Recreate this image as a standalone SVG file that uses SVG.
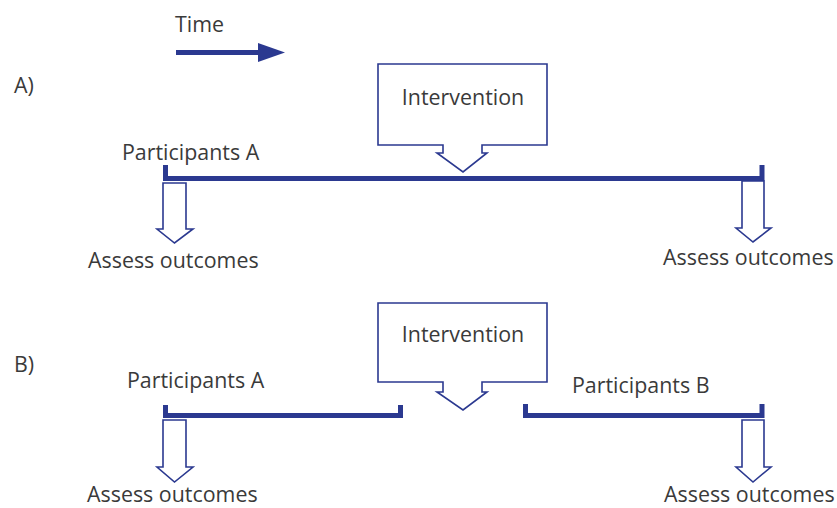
<svg xmlns="http://www.w3.org/2000/svg" width="837" height="508" viewBox="0 0 837 508">
<style>
text{font-family:"Open Sans","Noto Sans",sans-serif;font-size:21.4px;fill:#3a3a3a}
.bar{fill:none;stroke:#2b3990;stroke-width:5}
.hollow{fill:#fff;stroke:#2b3990;stroke-width:1.6}
</style>
<rect width="837" height="508" fill="#fff"/>
<g id="time">
<text x="175" y="32">Time</text>
<line x1="176" y1="52.5" x2="262" y2="52.5" stroke="#2b3990" stroke-width="5"/>
<polygon points="258,43 285,52.5 258,62" fill="#2b3990"/>
</g>
<text x="14" y="93">A)</text>
<text x="14" y="372">B)</text>
<g id="interventionA">
<polygon class="hollow" points="378,64 547,64 547,145 482,145 482,153 487,153 463,172 437,153 443,153 443,145 378,145"/>
<text x="463" y="105" text-anchor="middle">Intervention</text>
</g>
<g id="timelineA">
<polyline class="bar" points="165.5,165 165.5,178.5 762,178.5 762,165"/>
<text x="122" y="160">Participants A</text>
</g>
<g id="assessA1">
<polygon class="hollow" points="163,183 186,183 186,229 193,229 174.5,243 157,229 163,229"/>
<text x="88" y="268">Assess outcomes</text>
</g>
<g id="assessA2">
<polygon class="hollow" points="742,181 764,181 764,228 771,228 753,242 736,228 742,228"/>
<text x="663" y="265">Assess outcomes</text>
</g>
<g id="interventionB">
<polygon class="hollow" points="378,303 547,303 547,382 482,382 482,392 487,392 463,410 437,392 443,392 443,382 378,382"/>
<text x="463" y="342" text-anchor="middle">Intervention</text>
</g>
<g id="timelineB1">
<polyline class="bar" points="165.5,405 165.5,415.5 400.5,415.5 400.5,405"/>
<text x="127" y="388">Participants A</text>
</g>
<g id="timelineB2">
<polyline class="bar" points="525.5,404 525.5,415.5 762,415.5 762,404"/>
<text x="572" y="393">Participants B</text>
</g>
<g id="assessB1">
<polygon class="hollow" points="163,420 186,420 186,467 193,467 174.5,482 157,467 163,467"/>
<text x="87" y="502">Assess outcomes</text>
</g>
<g id="assessB2">
<polygon class="hollow" points="742,420 764,420 764,467 771,467 753,482 736,467 742,467"/>
<text x="664" y="502">Assess outcomes</text>
</g>
</svg>
